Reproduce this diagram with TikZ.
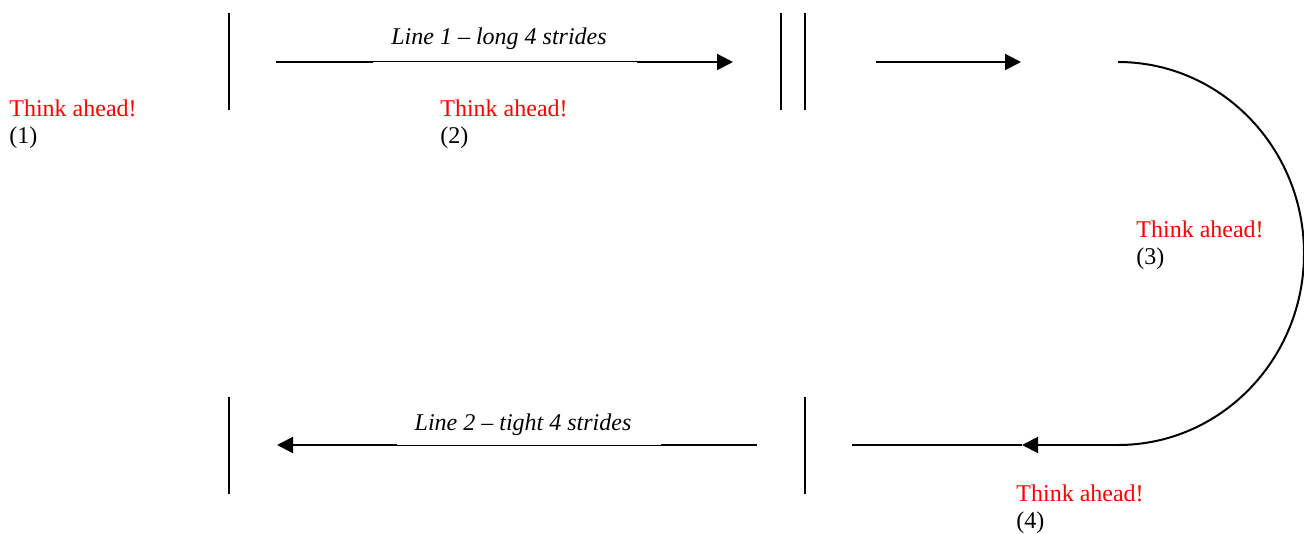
\documentclass[tikz,border=0pt]{standalone}
\usepackage{fontspec}
\setmainfont{Liberation Serif}
\usetikzlibrary{arrows.meta}
\tikzset{
  bar/.style={line width=1pt},
  track/.style={line width=1pt},
  thinpart/.style={line width=0.5pt},
  headtip/.style={-{Triangle[length=8pt,width=8pt]}},
  warn/.style={anchor=base west, inner sep=0pt, text=red, font=\fontsize{12}{14}\selectfont},
  num/.style={anchor=base west, inner sep=0pt, font=\fontsize{12}{14}\selectfont},
  linelabel/.style={anchor=base, inner sep=0pt, font=\fontsize{12}{14}\selectfont\itshape}
}
\begin{document}
\begin{tikzpicture}[x=0.5pt,y=-0.5pt]
\useasboundingbox (0,0) rectangle (1304,534);

% fences (vertical poles)
\coordinate (f1t) at (229,13);  \coordinate (f1b) at (229,110);
\coordinate (f2t) at (781,13);  \coordinate (f2b) at (781,110);
\coordinate (f3t) at (805,13);  \coordinate (f3b) at (805,110);
\coordinate (f4t) at (805,397); \coordinate (f4b) at (805,494);
\coordinate (f5t) at (229,397); \coordinate (f5b) at (229,494);
\foreach \f in {1,...,5} \draw[bar] (f\f t) -- (f\f b);

% line 1 (left to right)
\coordinate (a1s) at (276,62);
\coordinate (a1m) at (373,62);
\coordinate (a1n) at (637,62);
\coordinate (a1e) at (733,62);
\draw[track] (a1s) -- (a1m);
\draw[thinpart] (a1m) -- (a1n);
\draw[track,headtip] (a1n) -- (a1e);
\node[linelabel] (lab1) at (499,45) {Line 1 – long 4 strides};

% short run after the double fence
\coordinate (a2s) at (876,62);
\coordinate (a2e) at (1021,62);
\draw[track,headtip] (a2s) -- (a2e);

% the turn
\coordinate (turnTop) at (1118,62);
\coordinate (turnBot) at (1118,445);
\draw[track] (turnTop) arc[start angle=-90, end angle=90, x radius=186, y radius=191.5];

% run back towards line 2
\coordinate (a3m) at (1022,445);
\coordinate (a3e) at (852,445);
\draw[track,headtip] (turnBot) -- (a3m);
\draw[track] (a3m) -- (a3e);

% line 2 (right to left)
\coordinate (a4s) at (757,445);
\coordinate (a4m) at (661,445);
\coordinate (a4n) at (397,445);
\coordinate (a4e) at (277,445);
\draw[track] (a4s) -- (a4m);
\draw[thinpart] (a4m) -- (a4n);
\draw[track,headtip] (a4n) -- (a4e);
\node[linelabel] (lab2) at (523,430) {Line 2 – tight 4 strides};

% reminders
\node[warn] (w1) at (9,117) {Think ahead!};
\node[num]  (n1) at (9,144) {(1)};
\node[warn] (w2) at (440,117) {Think ahead!};
\node[num]  (n2) at (440,144) {(2)};
\node[warn] (w3) at (1136,237) {Think ahead!};
\node[num]  (n3) at (1136,264) {(3)};
\node[warn] (w4) at (1016,501) {Think ahead!};
\node[num]  (n4) at (1016,528) {(4)};
\end{tikzpicture}
\end{document}
